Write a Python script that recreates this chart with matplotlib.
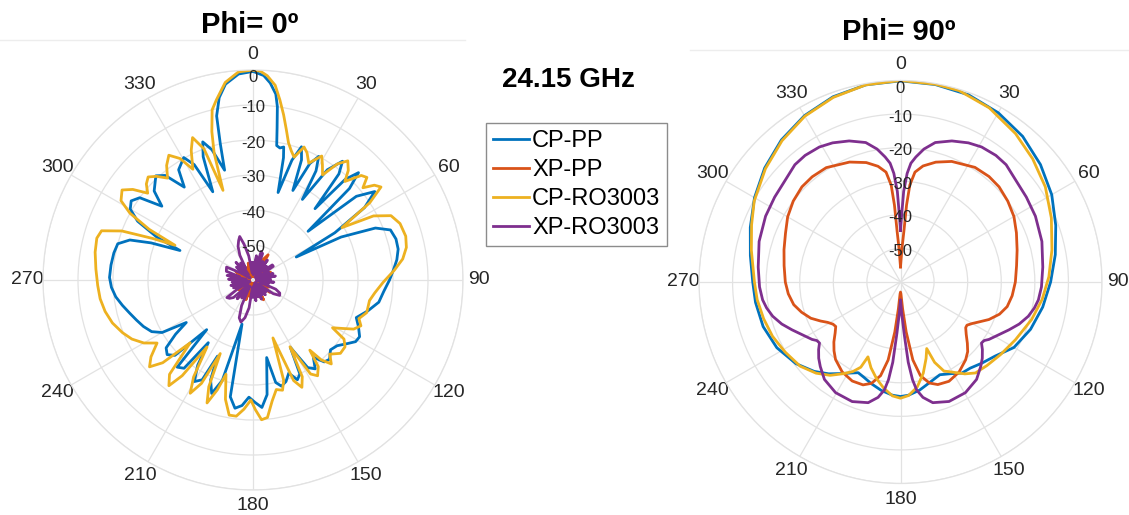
import numpy as np
import matplotlib.pyplot as plt
from matplotlib.transforms import offset_copy

plt.rcParams['font.family'] = ['Liberation Sans', 'DejaVu Sans']

series_names = ['CP-PP', 'XP-PP', 'CP-RO3003', 'XP-RO3003']
series_colors = ['#0072BD', '#D95319', '#EDB120', '#7E2F8E']

theta_ticks = [0, 30, 60, 90, 120, 150, 180, 210, 240, 270, 300, 330]
r_ticks = [-50, -40, -30, -20, -10, 0]

# ---- Phi = 0 cut (angle in deg, gain in dB) ----
cp_pp_0_ang = [0, 3, 5, 7, 8, 9, 10, 11.5, 13, 14, 16, 18, 20, 22, 24, 26, 28, 30, 31.5, 34,
               37, 39, 41, 42.5, 44.5, 46.5, 48.5, 51, 54, 57, 60, 62, 64, 67, 70, 74, 78, 82,
               86, 90, 95, 100, 105, 110, 114, 118, 121, 124, 128, 132, 136, 139, 142, 145,
               148, 151, 153.5, 156, 159, 162, 165, 167.5, 170, 173, 176, 179, 182, 185, 188,
               191, 194, 197, 200, 203, 205, 207, 210, 213, 215.5, 218, 221, 223, 226, 229,
               232, 235, 237.5, 240, 243, 247, 251, 255, 259, 263, 267, 271, 276, 281, 285,
               288, 290, 292, 294, 297, 300, 303, 306, 309, 312, 317, 320, 323.5, 326, 330.5,
               333, 335.5, 338, 340, 342.5, 345.5, 346.5, 347.5, 349.5, 352, 356, 360]
cp_pp_0_db = [-0.4, -1.5, -3.5, -6.5, -10, -16, -21, -21.5, -21, -24, -34, -24, -19.5, -23, -32,
              -23, -20, -24, -33, -22, -17.5, -21, -33, -21, -17, -22, -39, -22, -17, -22, -33,
              -46, -32, -22, -18.2, -17.5, -17.6, -18.5, -19.8, -21, -22.5, -23.5, -26, -28.6,
              -27, -25.5, -25.8, -27.5, -29.5, -30.2, -28.5, -29, -32, -29, -30.5, -38, -30,
              -28.8, -31.5, -29.5, -28.6, -30, -37.5, -27, -23.5, -25, -26.5, -24, -23, -26,
              -47, -30, -25.5, -29, -36, -28, -26.5, -31, -38, -28, -27, -40.6, -29, -27.5,
              -28.5, -33, -37.4, -30, -27.5, -26, -24.8, -23.5, -22, -20.5, -19.5, -19, -19.2,
              -19.5, -20, -23, -29, -37.5, -30, -23, -19.5, -18.5, -20, -26.5, -22, -19.3, -21,
              -27, -22, -19.8, -23, -32.3, -22, -18, -21, -27.6, -20, -12, -7, -3.5, -1, -0.4]

xp_pp_0_ang = [0, 6, 12, 18, 24, 31, 36, 42, 48, 54, 60, 66, 72, 78, 84, 90, 96, 102, 108, 114,
               120, 126, 132, 138, 144, 152, 158, 164, 170, 176, 182, 188, 194, 200, 206, 212,
               218, 224, 230, 236, 242, 248, 254, 260, 266, 272, 278, 284, 290, 296, 302, 308,
               314, 320, 326, 332, 338, 344, 350, 356, 360]
xp_pp_0_db = [-57, -59, -55, -58, -54, -51.6, -58, -55, -59, -56, -58, -54.5, -59, -56, -58.5,
              -55, -59, -56, -58, -55, -57.5, -54, -59, -55.5, -58, -53.6, -59, -55, -58, -56,
              -59, -55, -57.5, -54, -59, -54, -58, -55.5, -59, -55, -58, -56, -59, -55, -58,
              -56, -59, -55, -58, -54.5, -59, -56, -58.5, -55, -59, -56, -58, -55, -59, -56, -57]

cp_ro_0_ang = [0, 2, 4, 6.5, 8.5, 10.5, 12.5, 14.5, 16.5, 18.5, 21, 23, 25.5, 29, 31, 33.5, 36,
               38.5, 41, 43, 46, 48, 50, 52, 54, 56.5, 59.5, 62, 65, 69, 74, 78, 82, 86, 91, 96,
               100, 106, 110, 113, 116, 118.5, 121, 123, 126, 130, 134, 137, 139.5, 141, 143,
               146, 148.5, 151, 153, 155.5, 158, 161, 163, 165, 168, 171, 174, 176.5, 179, 181,
               184, 187, 190, 193, 196, 198, 200.5, 202.5, 204, 206.5, 209, 211.5, 214.5, 216.5,
               218.5, 221.5, 225, 227.5, 230, 233, 236.7, 240, 244, 248, 253, 258, 263, 268,
               274, 280, 285, 288, 290.5, 292.5, 294, 296, 298.5, 301, 304.5, 307, 309.5, 312,
               314.5, 317, 320, 323, 326, 329, 331.5, 334.5, 337, 339.5, 341.5, 343, 344.5,
               346.5, 348.5, 352, 356, 360]
cp_ro_0_db = [0, -0.3, -1.5, -4, -8, -12, -16, -19.5, -21.5, -23, -19.3, -20.5, -23, -19.5, -21.5,
              -24, -19, -16.5, -18.5, -21.5, -17, -16.2, -19, -16, -14.8, -20, -30.5, -21, -16.5,
              -15, -14.6, -15.2, -16.8, -19.5, -22.8, -25, -26.2, -26.2, -27.8, -26.5, -28, -31,
              -33.5, -29, -27.5, -27.4, -29.5, -27.2, -30, -34.2, -29, -27, -28.5, -38.2, -29,
              -26.3, -29, -42.5, -30, -27.4, -28, -25, -20.5, -20, -23, -25.7, -23, -20.8, -20.8,
              -25, -32, -27, -22.5, -27, -37, -27, -23, -27.5, -36.8, -26, -21.4, -24, -34.6, -25,
              -21.4, -23.5, -27.2, -24, -21.5, -19.8, -18, -16.8, -16, -15.6, -15, -14.2, -13.8,
              -14.5, -20, -29, -35.6, -27, -20, -16, -14.6, -17, -21, -19, -18, -19.5, -22, -19,
              -17, -19.5, -24, -19, -15.8, -20, -33, -22, -16, -10, -7.5, -3, -0.4, 0]

xp_ro_0_ang = [0, 4, 8, 12, 16, 20, 24, 28, 32, 36, 40, 44, 48, 52, 56, 60, 64, 68, 72, 76, 80,
               84, 88, 92, 96, 100, 104, 108, 112, 116, 120, 124, 128, 132, 136, 140, 144, 148,
               152, 156, 160, 164, 168, 172, 176, 180, 184, 188, 192, 196, 200, 204, 208, 212,
               216, 220, 224, 228, 232, 236, 240, 244, 248, 252, 256, 260, 264, 268, 272, 276,
               280, 284, 288, 292, 296, 300, 304, 308, 312, 316, 320, 324, 328, 332, 336, 340,
               343, 346, 350, 354, 358, 360]
xp_ro_0_db = [-55, -58.5, -53, -57, -51.5, -52, -58, -54, -57.5, -53, -59, -54.5, -56, -53, -53,
              -58, -55, -59, -54, -57, -53.5, -58, -55, -59, -54, -57, -55.5, -58, -53, -51.5,
              -51.2, -53, -58, -55, -59, -54.5, -57, -55, -59, -54, -57.5, -55, -58.5, -54, -57,
              -55, -58, -52, -49, -47.5, -48.5, -52, -58, -54, -57.5, -53, -58, -52.5, -51.5, -51,
              -55, -59, -54, -57, -53.5, -58.5, -54, -57, -53, -58, -52.5, -56, -52, -51.8, -51.6,
              -56, -59, -54, -57.5, -53, -58, -54, -56, -52, -49.5, -48, -47, -49.5, -53, -58,
              -55, -55]

# ---- Phi = 90 cut ----
cp_pp_90_ang = [0, 10, 20, 30, 40, 50, 60, 70, 80, 90, 100, 110, 120, 128, 135, 141, 146, 151,
                157, 163, 170, 176, 180, 184, 190, 196, 201, 205, 209, 213, 218, 224, 232, 242,
                252, 262, 270, 280, 290, 300, 310, 320, 330, 340, 350, 360]
cp_pp_90_db = [-0.1, -0.3, -0.7, -1.8, -3.4, -5.6, -8, -10.8, -13.2, -15.3, -17, -18.8, -21,
               -24.2, -25.8, -27, -27.3, -28.8, -30, -29, -27.3, -26.2, -25.9, -26.2, -27.2,
               -28.5, -29.6, -30.2, -29, -27.5, -25.3, -23, -20.5, -18.3, -17, -16.4, -16,
               -14.6, -12.4, -9.8, -7.2, -4.8, -2.8, -1.3, -0.4, -0.1]

xp_pp_90_ang = [0, 2.5, 3.8, 4.5, 5.5, 7.5, 11, 16.4, 23, 33, 40, 46, 53, 60, 67, 74.7, 82, 90,
                97, 103, 108, 113, 117, 120, 123, 125, 128.5, 132.5, 136, 140, 147, 154, 160,
                164, 168, 171, 173.5, 175.5, 178, 180, 182, 184.5, 186.5, 189, 192, 196, 200,
                206, 213, 220, 224, 228, 232, 235.5, 238, 241, 244, 248, 253, 258, 264, 270,
                278, 285.5, 293, 300, 307, 314, 320, 327, 337, 344, 349, 352.5, 354.5, 355.5,
                356.2, 357.5, 360]
xp_pp_90_db = [-55.5, -50, -45, -37, -31, -27, -24.8, -22.8, -21, -19.3, -19, -19.2, -20, -21,
               -22.5, -24, -25.1, -25.8, -26.5, -27.4, -29, -31.4, -33.8, -35.3, -36.4, -36.3,
               -35, -33, -31.2, -29.8, -28, -27.1, -27.5, -28.7, -31.5, -36.5, -45, -52, -56.5,
               -57, -56.5, -52, -45, -36.5, -31.5, -28.6, -27.4, -27.2, -28.1, -29.9, -31.5,
               -33.3, -35.3, -36.6, -36.3, -35.2, -33.5, -31.2, -29.2, -27.5, -26.4, -25.7, -25,
               -24, -22.8, -21.2, -20, -19.2, -19.1, -19.4, -21.2, -23, -24.9, -27, -31, -37,
               -45, -50, -55.5]

cp_ro_90_ang = [0, 10, 17, 27, 37.8, 47, 56.7, 67, 78, 88, 97, 106, 116.7, 126, 134, 140.5, 145,
                150, 154, 157, 158.5, 161.5, 166, 171, 176, 180, 184, 189, 194, 199, 203.5, 205,
                208, 212, 217, 222.8, 230, 238.8, 247, 255, 263, 270, 282, 291, 299, 310, 320,
                330, 340, 350, 360]
cp_ro_90_db = [0, -0.2, -0.4, -1.8, -4.1, -6.2, -8.4, -11.2, -13.9, -15.8, -17.5, -19.4, -21.7,
               -23.2, -24.2, -24.9, -26.6, -29, -30.5, -34, -38.7, -36, -32, -28.3, -26.1, -25.4,
               -26, -28, -30.4, -33, -35.7, -32, -29.8, -27.8, -25.2, -23, -21, -19.8, -18.6,
               -17.8, -17, -16.5, -14.6, -12.5, -10.2, -7.5, -5.1, -3, -1.5, -0.4, 0]

xp_ro_90_ang = [0, 1, 2, 3.5, 5, 7, 10, 14, 20, 26, 31, 37, 42, 48.5, 56, 64, 74, 84, 92, 97.4,
                101, 105, 109.5, 113.8, 118, 123, 125, 127, 129.5, 133, 136.5, 142, 149.6, 157.9,
                165, 169, 171.5, 173, 174.5, 176, 178, 180, 182, 184, 185.5, 187, 188.5, 191,
                195, 202, 210.4, 218, 223.5, 227, 230.5, 233, 235, 237, 242, 246.2, 250.5, 255,
                259, 262.6, 268, 276, 286, 296, 304, 311.5, 318, 323, 329, 334, 340, 346, 350,
                353, 355, 356.5, 358, 359, 360]
xp_ro_90_db = [-44.6, -40, -33, -27.6, -24.5, -22.5, -19.8, -17.2, -15.3, -13.9, -13.1, -12.8,
               -13, -14.2, -14.8, -15.3, -16.2, -17.4, -18, -18.6, -19.4, -20.6, -22.5, -24.7,
               -26.7, -28.6, -29.6, -29.8, -28.4, -26.7, -25.3, -23.2, -21.8, -21.6, -22.8, -25,
               -27.5, -30.7, -36, -44.7, -51, -54.7, -51, -44.7, -36, -30.7, -27.5, -25, -22.8,
               -21.6, -21.8, -23.2, -25.3, -26.7, -28.4, -29.8, -29.6, -28.6, -26.7, -24.7,
               -22.5, -20.6, -19.4, -18.6, -18, -17.4, -16.2, -15.3, -14.8, -14.2, -13, -12.8,
               -13.1, -13.9, -15.3, -17.2, -19.8, -22.5, -24.5, -27.6, -33, -40, -44.6]


def style_polar(ax, fig):
    ax.set_theta_zero_location('N')
    ax.set_theta_direction(-1)
    ax.set_ylim(-60, 0)
    ax.set_yticks(r_ticks)
    ax.set_yticklabels([])
    ax.set_xticks(np.deg2rad(theta_ticks))
    ax.set_xticklabels([str(t) for t in theta_ticks], fontsize=14, color='#262626')
    ax.tick_params(axis='x', pad=1)
    ax.grid(True, color='#e2e2e2', linewidth=0.9)
    ax.spines['polar'].set_color('#e2e2e2')
    ax.spines['polar'].set_linewidth(0.9)
    # r labels sit on the 0 deg spoke, just under each ring
    for v in r_ticks:
        dy = -8 if v == 0 else -3
        tr = offset_copy(ax.transData, fig=fig, y=dy, units='dots')
        ax.text(0, v, str(v), transform=tr, ha='center', va='center',
                fontsize=12, color='#262626', zorder=5)


def draw_cut(ax, curves):
    lines = []
    for (ang, db), color in zip(curves, series_colors):
        ln, = ax.plot(np.deg2rad(ang), db, color=color, linewidth=2.0)
        lines.append(ln)
    return lines


fig = plt.figure(figsize=(11.29, 5.15), dpi=100)

# faint frame edges above each plot
fig.add_artist(plt.Line2D([0, 465 / 1129], [1 - 40 / 515] * 2, color='#ededed', lw=1))
fig.add_artist(plt.Line2D([690 / 1129, 1], [1 - 50 / 515] * 2, color='#ededed', lw=1))

ax1 = fig.add_axes([43 / 1129, 25 / 515, 420 / 1129, 420 / 515], projection='polar')
ax2 = fig.add_axes([699 / 1129, 31.5 / 515, 403 / 1129, 403 / 515], projection='polar')
style_polar(ax1, fig)
style_polar(ax2, fig)

handles = draw_cut(ax1, [(cp_pp_0_ang, cp_pp_0_db), (xp_pp_0_ang, xp_pp_0_db),
                         (cp_ro_0_ang, cp_ro_0_db), (xp_ro_0_ang, xp_ro_0_db)])
draw_cut(ax2, [(cp_pp_90_ang, cp_pp_90_db), (xp_pp_90_ang, xp_pp_90_db),
               (cp_ro_90_ang, cp_ro_90_db), (xp_ro_90_ang, xp_ro_90_db)])

fig.text(250 / 1129, 1 - 25 / 515, 'Phi= 0º', ha='center', va='center',
         fontsize=21, fontweight='bold')
fig.text(899 / 1129, 1 - 32 / 515, 'Phi= 90º', ha='center', va='center',
         fontsize=21, fontweight='bold')
fig.text(568 / 1129, 1 - 80 / 515, '24.15 GHz', ha='center', va='center',
         fontsize=20, fontweight='bold')

leg = fig.legend(handles, series_names, loc='upper left',
                 bbox_to_anchor=(486 / 1129, 1 - 123 / 515), fontsize=17,
                 frameon=True, fancybox=False, edgecolor='#8c8c8c', framealpha=1,
                 borderpad=0.3, labelspacing=0.3, handlelength=1.5,
                 handletextpad=0.15, borderaxespad=0)
leg.get_frame().set_linewidth(1.0)

fig.savefig('out.png', dpi=100)
